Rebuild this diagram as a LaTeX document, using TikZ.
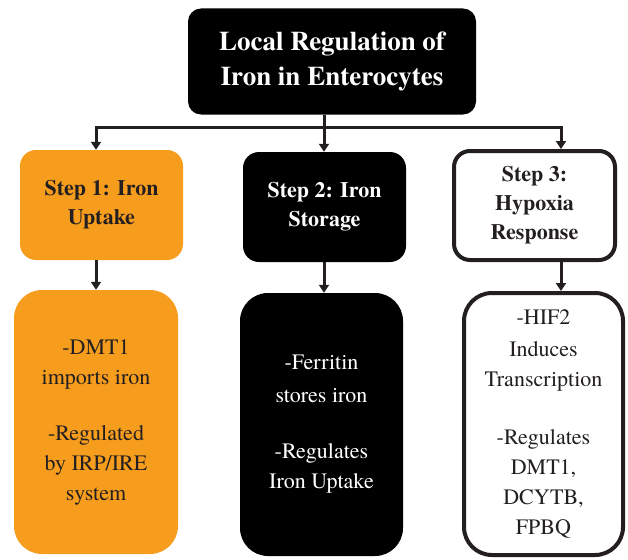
\documentclass[tikz,border=0pt]{standalone}
\usepackage{fontspec}
\setmainfont{texgyretermes}[Extension=.otf, UprightFont=*-regular, BoldFont=*-bold, ItalicFont=*-italic, BoldItalicFont=*-bolditalic]
\usetikzlibrary{arrows.meta}
\definecolor{orng}{RGB}{247,157,30}
\definecolor{ink}{RGB}{35,31,32}
\begin{document}
\begin{tikzpicture}[x=1pt,y=-1pt,
  basebox/.style={inner sep=0pt, align=center, anchor=center},
  titlebox/.style={basebox, fill=black, text=white, rounded corners=13pt,
    font=\bfseries\fontsize{27}{35}\selectfont},
  stepbox/.style={basebox, rounded corners=16pt, font=\bfseries\fontsize{22}{29}\selectfont},
  outbox/.style={basebox, rounded corners=28pt, font=\fontsize{22}{30}\selectfont},
  orangefill/.style={fill=orng, text=ink},
  blackfill/.style={fill=black, text=white},
  whitefill/.style={fill=white, draw=ink, line width=4pt, text=ink},
  arr/.style={draw=ink, line width=3pt, -{Triangle[width=10pt,length=8pt]}}
]
\useasboundingbox (0,0) rectangle (628,559);

% title
\node[titlebox, minimum width=288pt, minimum height=106pt] (title) at (332,61.5)
  {Local Regulation of\\Iron in Enterocytes};

% steps
\node[stepbox, orangefill, minimum width=163pt, minimum height=110pt] (step1) at (101.5,205)
  {Step 1: Iron\\Uptake};
\node[stepbox, blackfill, minimum width=163pt, minimum height=110pt] (step2) at (324.5,207)
  {Step 2: Iron\\Storage};
\node[stepbox, whitefill, minimum width=161pt, minimum height=109pt] (step3) at (534.5,205.5)
  {Step 3:\\Hypoxia\\Response};

% outcomes
\node[outbox, orangefill, minimum width=164pt, minimum height=264pt] (out1) at (96,422)
  {-DMT1\\imports iron\\[26pt]-Regulated\\by IRP/IRE\\system};
\node[outbox, blackfill, minimum width=163pt, minimum height=263pt] (out2) at (321.5,424.5)
  {-Ferritin\\[3pt]stores iron\\[26pt]-Regulates\\Iron Uptake};
\node[outbox, whitefill, minimum width=159pt, minimum height=262pt] (out3) at (543.5,424)
  {-HIF2\\[2pt]Induces\\Transcription\\[28pt]-Regulates\\DMT1,\\DCYTB,\\FPBQ};

% connector columns
\coordinate (x1) at (96,0);
\coordinate (x2) at (324,0);
\coordinate (x3) at (561,0);
\coordinate (bus) at (324,127);

\draw[arr] (bus) -| (step1.north -| x1);
\draw[arr] (bus) -| (step3.north -| x3);
\draw[arr] (title.south -| x2) -- (step2.north -| x2);

\draw[arr] (step1.south -| x1) -- (out1.north -| x1);
\draw[arr] (step2.south -| x2) -- (out2.north -| x2);
\draw[arr] (step3.south -| x3) -- (out3.north -| x3);
\end{tikzpicture}
\end{document}
